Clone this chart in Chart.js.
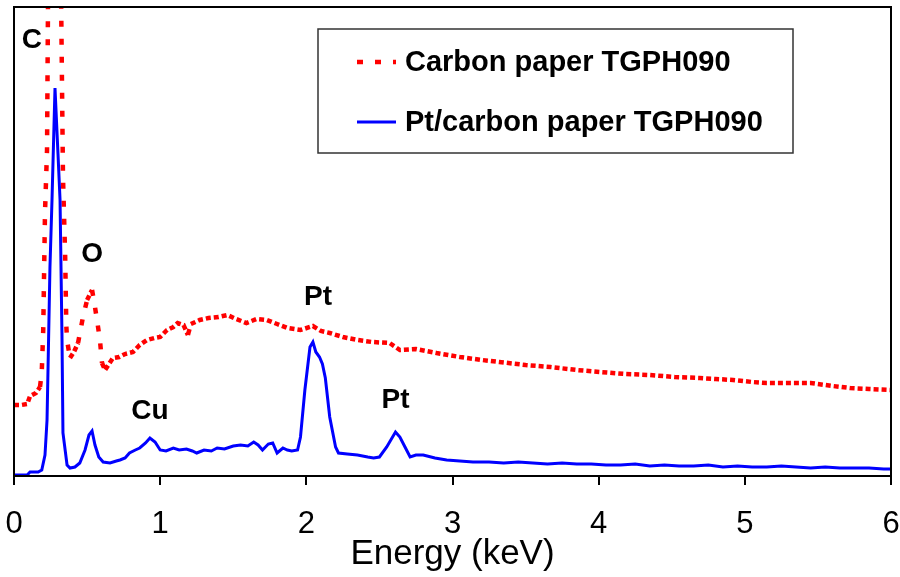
<!DOCTYPE html>
<html>
<head>
<meta charset="utf-8">
<script src="https://cdn.jsdelivr.net/npm/chart.js@4/dist/chart.umd.min.js"></script>
<style>
  html, body { margin: 0; padding: 0; background: #fff; }
  #wrap { width: 900px; height: 577px; }
</style>
</head>
<body>
<div id="wrap"><canvas id="c" width="900" height="577"></canvas></div>
<script>
// ---- Data ----
const seriesNames = ['Carbon paper TGPH090', 'Pt/carbon paper TGPH090'];

// Carbon paper TGPH090 (red, dotted)
const carbonE = [0, 0.05, 0.09, 0.11, 0.15, 0.178, 0.19, 0.2, 0.212, 0.226, 0.233, 0.28, 0.322, 0.335, 0.35, 0.358, 0.363, 0.383, 0.41, 0.438,
  0.472, 0.5, 0.534, 0.554, 0.575, 0.588, 0.602, 0.623, 0.65, 0.677, 0.72, 0.76, 0.814, 0.86, 0.91, 0.96, 1.0, 1.047, 1.09, 1.12,
  1.16, 1.19, 1.21, 1.27, 1.33, 1.40, 1.46, 1.52, 1.59, 1.66, 1.73, 1.80, 1.87, 1.96, 2.045, 2.1, 2.16, 2.25, 2.35, 2.45,
  2.57, 2.64, 2.75, 2.89, 3.05, 3.2, 3.32, 3.5, 3.67, 3.85, 4.01, 4.18, 4.35, 4.52, 4.69, 4.8, 4.92, 5.05, 5.15, 5.3,
  5.45, 5.6, 5.72, 5.85, 6.0];
const carbonCounts = [71, 71, 72, 80, 83, 89, 104, 146, 263, 326, 480, 1100, 480, 300, 220, 150, 136, 118, 124, 133,
  159, 176, 186, 169, 149, 136, 113, 106, 112, 118, 119, 122, 124, 131, 136, 138, 139, 146, 149, 153,
  151, 141, 152, 156, 158, 159, 161, 157, 153, 157, 156, 152, 148, 146, 150, 145, 143, 139, 136, 134,
  133, 126, 127, 123, 119, 116, 114, 111, 109, 106, 104, 102, 101, 99, 98, 97, 96, 94, 93, 93,
  93, 90, 88, 87, 86];

// Pt/carbon paper TGPH090 (blue, solid)
const ptE = [0, 0.05, 0.09, 0.11, 0.165, 0.19, 0.212, 0.226, 0.233, 0.246, 0.26, 0.2805, 0.301, 0.315, 0.328, 0.335, 0.363, 0.383, 0.417, 0.45,
  0.486, 0.513, 0.534, 0.554, 0.58, 0.61, 0.657, 0.70, 0.725, 0.76, 0.79, 0.83, 0.86, 0.90, 0.93, 0.965, 1.0, 1.04, 1.09, 1.13,
  1.18, 1.22, 1.25, 1.30, 1.35, 1.39, 1.44, 1.50, 1.55, 1.60, 1.64, 1.67, 1.70, 1.74, 1.77, 1.80, 1.84, 1.87, 1.90, 1.94,
  1.96, 1.99, 2.025, 2.045, 2.065, 2.09, 2.11, 2.13, 2.16, 2.20, 2.22, 2.28, 2.35, 2.42, 2.46, 2.50, 2.55, 2.61, 2.64, 2.675,
  2.71, 2.75, 2.80, 2.88, 2.96, 3.05, 3.14, 3.25, 3.35, 3.45, 3.55, 3.65, 3.75, 3.85, 3.95, 4.05, 4.15, 4.25, 4.35, 4.45,
  4.55, 4.65, 4.75, 4.85, 4.95, 5.05, 5.15, 5.25, 5.35, 5.45, 5.55, 5.65, 5.75, 5.85, 5.95, 6.0];
const ptCounts = [1, 1, 1, 4, 4, 6, 21, 56, 109, 209, 276, 388, 322, 276, 143, 43, 11, 8, 9, 13,
  26, 41, 45, 31, 19, 14, 13, 15, 16, 18, 23, 26, 28, 33, 38, 34, 26, 25, 28, 26,
  27, 25, 23, 26, 25, 28, 27, 30, 31, 30, 34, 31, 26, 32, 33, 23, 28, 26, 25, 26,
  39, 86, 129, 134, 124, 119, 112, 98, 59, 29, 23, 22, 21, 19, 18, 19, 29, 44, 39, 29,
  19, 21, 21, 18, 16, 15, 14, 14, 13, 14, 13, 12, 13, 12, 12, 11, 11, 12, 10, 11,
  10, 10, 11, 9, 10, 9, 9, 10, 9, 8, 9, 8, 8, 8, 7, 7];

// Peak labels (text, energy keV, counts)
const peakLabels = ['C', 'O', 'Cu', 'Pt', 'Pt'];
const peakE = [0.123, 0.534, 0.93, 2.08, 2.61];
const peakY = [436, 222, 65, 179, 76];

const xTicks = [0, 1, 2, 3, 4, 5, 6];
const xTitle = 'Energy (keV)';
const yMax = 469;

// ---- Build ----
const toXY = (xs, ys) => xs.map((x, i) => ({ x: x, y: ys[i] }));

const framePlugin = {
  id: 'frame',
  afterDatasetsDraw(chart) {
    const { ctx, chartArea: a } = chart;
    ctx.save();
    ctx.strokeStyle = '#000';
    ctx.lineWidth = 2;
    ctx.strokeRect(a.left, a.top, a.right - a.left, a.bottom - a.top);
    ctx.restore();
  }
};

const peakPlugin = {
  id: 'peaks',
  afterDatasetsDraw(chart) {
    const { ctx, scales } = chart;
    ctx.save();
    ctx.fillStyle = '#000';
    ctx.font = 'bold 28px "Liberation Sans", Arial, sans-serif';
    ctx.textAlign = 'center';
    ctx.textBaseline = 'middle';
    peakLabels.forEach((t, i) => {
      ctx.fillText(t, scales.x.getPixelForValue(peakE[i]), scales.y.getPixelForValue(peakY[i]));
    });
    ctx.restore();
  }
};

const legendPlugin = {
  id: 'customLegend',
  afterDraw(chart) {
    const { ctx } = chart;
    ctx.save();
    ctx.fillStyle = '#fff';
    ctx.fillRect(318, 29, 475, 124);
    ctx.strokeStyle = '#333';
    ctx.lineWidth = 1.5;
    ctx.strokeRect(318, 29, 475, 124);
    const rows = [62, 122];
    chart.data.datasets.forEach((ds, i) => {
      const y = rows[i];
      ctx.beginPath();
      ctx.strokeStyle = ds.borderColor;
      ctx.lineWidth = ds.borderWidth;
      ctx.setLineDash(ds.legendDash || []);
      ctx.moveTo(357, y);
      ctx.lineTo(396, y);
      ctx.stroke();
      ctx.setLineDash([]);
      ctx.fillStyle = '#000';
      ctx.font = 'bold 29px "Liberation Sans", Arial, sans-serif';
      ctx.textAlign = 'left';
      ctx.textBaseline = 'middle';
      ctx.fillText(ds.label, 405, y + 1);
    });
    ctx.restore();
  }
};

// steep segments: sparse dots; flat noisy segments: dense dots
const redDash = (ctx) => {
  const dx = Math.abs(ctx.p1.x - ctx.p0.x);
  const dy = Math.abs(ctx.p1.y - ctx.p0.y);
  return dy > 3 * dx ? [6, 12] : [5, 3];
};

new Chart(document.getElementById('c'), {
  type: 'line',
  data: {
    datasets: [
      {
        label: seriesNames[0],
        data: toXY(carbonE, carbonCounts),
        borderColor: '#FF0000',
        borderWidth: 4.5,
        legendDash: [6, 12],
        segment: { borderDash: redDash },
        pointRadius: 0,
        tension: 0,
        fill: false,
        order: 2
      },
      {
        label: seriesNames[1],
        data: toXY(ptE, ptCounts),
        borderColor: '#0000FF',
        borderWidth: 3,
        pointRadius: 0,
        tension: 0,
        fill: false,
        order: 1
      }
    ]
  },
  options: {
    responsive: false,
    animation: false,
    devicePixelRatio: 1,
    layout: { padding: { left: 14, right: 9, top: 7, bottom: 0 } },
    plugins: { legend: { display: false }, tooltip: { enabled: false } },
    scales: {
      x: {
        type: 'linear',
        min: 0,
        max: 6,
        afterBuildTicks(scale) { scale.ticks = xTicks.map(v => ({ value: v })); },
        afterFit(scale) { scale.height = 101; scale.paddingLeft = 0; scale.paddingRight = 0; },
        ticks: {
          color: '#000',
          font: { family: '"Liberation Sans", Arial, sans-serif', size: 31 },
          padding: 21,
          maxRotation: 0,
          autoSkip: false
        },
        grid: { drawOnChartArea: false, drawTicks: true, tickLength: 9, color: '#000', lineWidth: 2 },
        border: { display: true, color: '#000', width: 2 },
        title: {
          display: true,
          text: xTitle,
          color: '#000',
          font: { family: '"Liberation Sans", Arial, sans-serif', size: 35 },
          padding: { top: 0, bottom: 2 }
        }
      },
      y: {
        display: false,
        min: 0,
        max: yMax
      }
    }
  },
  plugins: [framePlugin, peakPlugin, legendPlugin]
});
</script>
</body>
</html>
